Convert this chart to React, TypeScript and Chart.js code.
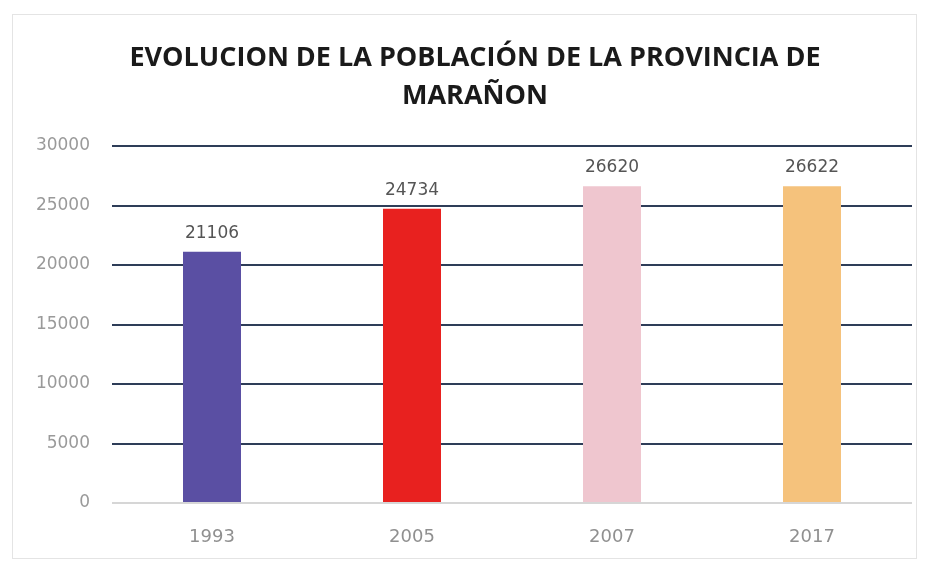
import React, { useEffect, useRef } from "react";
import { Chart, registerables } from "chart.js";

Chart.register(...registerables);

const categories = ["1993", "2005", "2007", "2017"];
const population = [21106, 24734, 26620, 26622];
const barColors = ["#5a4fa3", "#e8211f", "#efc6cf", "#f5c27c"];
const titleLines = ["EVOLUCION DE LA POBLACIÓN DE LA PROVINCIA DE", "MARAÑON"];
const yTicks = [0, 5000, 10000, 15000, 20000, 25000, 30000];

const titlePlugin = {
  id: "customTitle",
  beforeDraw(chart: any) {
    const ctx = chart.ctx;
    ctx.save();
    ctx.fillStyle = "#1a1a1a";
    ctx.font = "bold 27px 'Open Sans', sans-serif";
    ctx.textAlign = "center";
    ctx.textBaseline = "middle";
    ctx.fillText(titleLines[0], 475, 58);
    ctx.fillText(titleLines[1], 475, 96);
    ctx.restore();
  },
};

const labelPlugin = {
  id: "barLabels",
  afterDatasetsDraw(chart: any) {
    const ctx = chart.ctx;
    const meta = chart.getDatasetMeta(0);
    ctx.save();
    ctx.fillStyle = "#555555";
    ctx.font = "17px 'DejaVu Sans', sans-serif";
    ctx.textAlign = "center";
    ctx.textBaseline = "bottom";
    meta.data.forEach((bar: any, i: number) => {
      ctx.fillText(String(population[i]), bar.x, bar.y - 10);
    });
    ctx.restore();
  },
};

export default function App() {
  const ref = useRef<HTMLCanvasElement>(null);
  useEffect(() => {
    if (!ref.current) return;
    const chart = new Chart(ref.current, {
      type: "bar",
      data: {
        labels: categories,
        datasets: [
          {
            data: population,
            backgroundColor: barColors,
            barPercentage: 0.29,
            categoryPercentage: 1,
          },
        ],
      },
      options: {
        animation: false,
        responsive: false,
        layout: { padding: { top: 146, left: 0, right: 13, bottom: 0 } },
        plugins: { legend: { display: false }, tooltip: { enabled: false }, title: { display: false } },
        scales: {
          x: {
            grid: { display: false },
            border: { display: false },
            ticks: { color: "#909090", font: { family: "'DejaVu Sans', sans-serif", size: 18 }, padding: 16 },
            afterFit(scale: any) {
              scale.height = 58;
            },
          },
          y: {
            min: 0,
            max: 30000,
            afterBuildTicks(scale: any) {
              scale.ticks = yTicks.map((v) => ({ value: v }));
            },
            grid: {
              drawTicks: false,
              color: (c: any) => (c.tick && c.tick.value === 0 ? "#d6d6d6" : "#2e3d58"),
              lineWidth: 2,
            },
            border: { display: false },
            ticks: {
              color: "#9a9a9a",
              font: { family: "'DejaVu Sans', sans-serif", size: 17 },
              padding: 22,
              callback: (v: any) => String(v),
            },
            afterFit(scale: any) {
              scale.width = 112;
            },
          },
        },
      },
      plugins: [titlePlugin, labelPlugin],
    });
    return () => chart.destroy();
  }, []);
  return (
    <div
      style={{
        position: "absolute",
        left: 0,
        top: 0,
        width: 925,
        height: 561,
        background: "#ffffff",
      }}
    >
      <div
        style={{
          position: "absolute",
          left: 12,
          top: 14,
          width: 905,
          height: 545,
          border: "1px solid #e4e4e4",
          boxSizing: "border-box",
        }}
      />
      <canvas ref={ref} width={925} height={561} style={{ position: "absolute", left: 0, top: 0 }} />
    </div>
  );
}
